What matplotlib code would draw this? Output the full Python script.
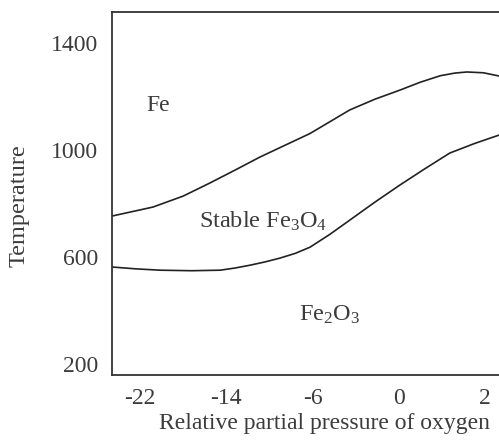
import matplotlib
matplotlib.use('Agg')
import matplotlib.pyplot as plt

plt.rcParams['font.family'] = ['Liberation Serif', 'DejaVu Serif']

# tick labels sit at evenly spaced positions (not a linear scale)
tick_pos = [0, 1, 2, 3, 4]
tick_labels = ['-22', '-14', '-6', '0', '2']
y_ticks = [200, 600, 1000, 1400]

# Fe / Fe3O4 boundary (x in tick-position units)
upper_x = [-0.33, 0.15, 0.5, 0.81, 1.1, 1.39, 1.68, 1.97, 2.2, 2.43, 2.72, 3.01, 3.25, 3.48, 3.65, 3.79, 3.98, 4.16]
upper_y = [753, 787, 828, 877, 925, 974, 1018, 1062, 1106, 1150, 1190, 1224, 1254, 1278, 1288, 1292, 1289, 1277]

# Fe3O4 / Fe2O3 boundary
lower_x = [-0.33, -0.05, 0.23, 0.6, 0.93, 1.1, 1.28, 1.45, 1.62, 1.8, 1.97, 2.2, 2.43, 2.72, 3.01, 3.3, 3.59, 3.88, 4.16]
lower_y = [563, 556, 551, 549, 551, 559, 570, 582, 596, 614, 637, 685, 738, 805, 869, 930, 989, 1025, 1056]

text_col = '#3c3c3c'

fig = plt.figure(figsize=(4.99, 4.47), dpi=100)
ax = fig.add_axes([0.2244, 0.161, 0.7756, 0.812])

ax.plot(upper_x, upper_y, color='#222222', lw=1.2)
ax.plot(lower_x, lower_y, color='#222222', lw=1.2)

ax.set_xlim(-0.325, 4.16)
ax.set_ylim(159, 1516)
ax.set_xticks(tick_pos)
ax.set_xticklabels(tick_labels)
ax.set_yticks(y_ticks)
ax.tick_params(length=0, labelsize=17, colors=text_col)
ax.tick_params(axis='x', pad=9)
ax.tick_params(axis='y', pad=10)

for side in ['left', 'top', 'bottom']:
    ax.spines[side].set_color('#333333')
    ax.spines[side].set_linewidth(1.3)
ax.spines['right'].set_visible(False)

ax.text(0.21, 1168, 'Fe', fontsize=17, color=text_col, ha='center', va='center')
ax.text(1.43, 735, r'Stable Fe$\mathregular{_3}$O$\mathregular{_4}$', fontsize=17.5,
        color=text_col, ha='center', va='center')
ax.text(2.2, 385, r'Fe$\mathregular{_2}$O$\mathregular{_3}$', fontsize=17.5,
        color=text_col, ha='center', va='center')

ax.set_xlabel('Relative partial pressure of oxygen', fontsize=17, color=text_col)
ax.set_ylabel('Temperature', fontsize=17.5, color=text_col)
ax.xaxis.set_label_coords(0.55, -0.105)
ax.yaxis.set_label_coords(-0.212, 0.468)

fig.savefig('out.png', dpi=100)
